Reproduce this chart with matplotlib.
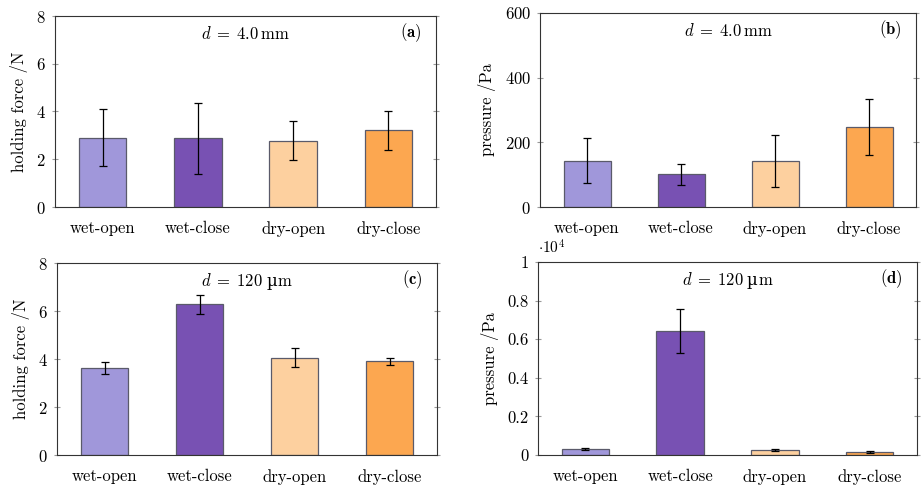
import matplotlib
matplotlib.use("Agg")
import matplotlib.pyplot as plt
from matplotlib.ticker import FuncFormatter
from matplotlib.transforms import offset_copy
import numpy as np

plt.rcParams['font.family'] = ['cmr10', 'DejaVu Serif']
plt.rcParams['mathtext.fontset'] = 'cm'
plt.rcParams['axes.formatter.use_mathtext'] = True
plt.rcParams['axes.unicode_minus'] = False

categories = ["wet-open", "wet-close", "dry-open", "dry-close"]
colors = ["#a097da", "#7851b3", "#fdd09f", "#fca750"]

force_4mm = [2.91, 2.88, 2.77, 3.21]
force_4mm_err = [1.18, 1.48, 0.82, 0.83]
pressure_4mm = [143, 101, 143, 247]
pressure_4mm_err = [69, 32, 81, 86]
force_120um = [3.62, 6.28, 4.06, 3.90]
force_120um_err = [0.25, 0.39, 0.40, 0.155]
pressure_120um = [310, 6420, 240, 155]
pressure_120um_err = [60, 1150, 50, 60]

fig = plt.figure(figsize=(9.22, 4.86), dpi=100)
W, H = 922, 486

def ax_at(l, t, r, b):
    return fig.add_axes([l / W, 1 - b / H, (r - l) / W, (b - t) / H])

FS = 12
# (text, font family, gap in px after the piece)
note_mm = [(r"$d\;=\;4.0\,\mathrm{mm}$", None, 0)]
note_um = [(r"$d\;=\;120$", None, 3), ("\u00b5", "DejaVu Serif", 0), (r"$\mathrm{m}$", None, 0)]
panels = [
    (ax_at(55, 16, 436, 207), force_4mm, force_4mm_err, (0, 8), [0, 2, 4, 6, 8],
     "holding force /N", note_mm, r"$\mathbf{(a)}$", None),
    (ax_at(540, 13, 916, 207), pressure_4mm, pressure_4mm_err, (0, 600), [0, 200, 400, 600],
     "pressure /Pa", note_mm, r"$\mathbf{(b)}$", None),
    (ax_at(57, 263, 437, 455), force_120um, force_120um_err, (0, 8), [0, 2, 4, 6, 8],
     "holding force /N", note_um, r"$\mathbf{(c)}$", None),
    (ax_at(538, 262, 917, 455), pressure_120um, pressure_120um_err, (0, 10000),
     [0, 2000, 4000, 6000, 8000, 10000],
     "pressure /Pa", note_um, r"$\mathbf{(d)}$", 1e4),
]

pending = []
x = np.arange(len(categories))
for ax, vals, errs, ylim, yticks, ylabel, note, tag, scale in panels:
    ax.bar(x, vals, width=0.5, color=colors, edgecolor="#5a5a6a", linewidth=0.9, zorder=2)
    ax.errorbar(x, vals, yerr=errs, fmt="none", ecolor="black", elinewidth=0.9,
                capsize=3.2, capthick=0.9, zorder=3)
    ax.set_xlim(-0.5, 3.5)
    ax.set_ylim(*ylim)
    ax.set_yticks(yticks)
    ax.set_xticks(x)
    ax.set_xticklabels(categories)
    ax.tick_params(axis="x", length=0, pad=10, labelsize=FS)
    ax.tick_params(axis="y", direction="inout", length=5, width=0.8, color="#999999",
                   labelsize=FS, right=True, pad=4)
    for s in ax.spines.values():
        s.set_color("#333333")
        s.set_linewidth(0.8)
    ax.set_ylabel(ylabel, fontsize=FS, labelpad=6)
    parts = []
    for txt, fam, gap in note:
        kw = {"family": fam} if fam else {}
        t = ax.text(0.5, 0.915, txt, transform=ax.transAxes, ha="left",
                    va="baseline", fontsize=FS, **kw)
        parts.append((t, gap))
    pending.append((ax, parts))
    ax.text(0.962, 0.915, tag, transform=ax.transAxes, ha="right", va="center", fontsize=FS)
    if scale:
        ax.yaxis.set_major_formatter(FuncFormatter(lambda v, p, s=scale: f"{v / s:g}"))
        ax.text(0.0, 1.03, r"$\cdot 10^4$", transform=ax.transAxes, ha="left",
                va="bottom", fontsize=11)

fig.canvas.draw()
r = fig.canvas.get_renderer()
for ax, parts in pending:
    widths = [t.get_window_extent(r).width + g for t, g in parts]
    total = sum(widths)
    off = -total / 2
    for (t, g), w in zip(parts, widths):
        t.set_transform(offset_copy(ax.transAxes, fig=fig, x=off * 72 / fig.dpi, y=-5, units="points"))
        off += w

fig.savefig("out.png", dpi=100)
